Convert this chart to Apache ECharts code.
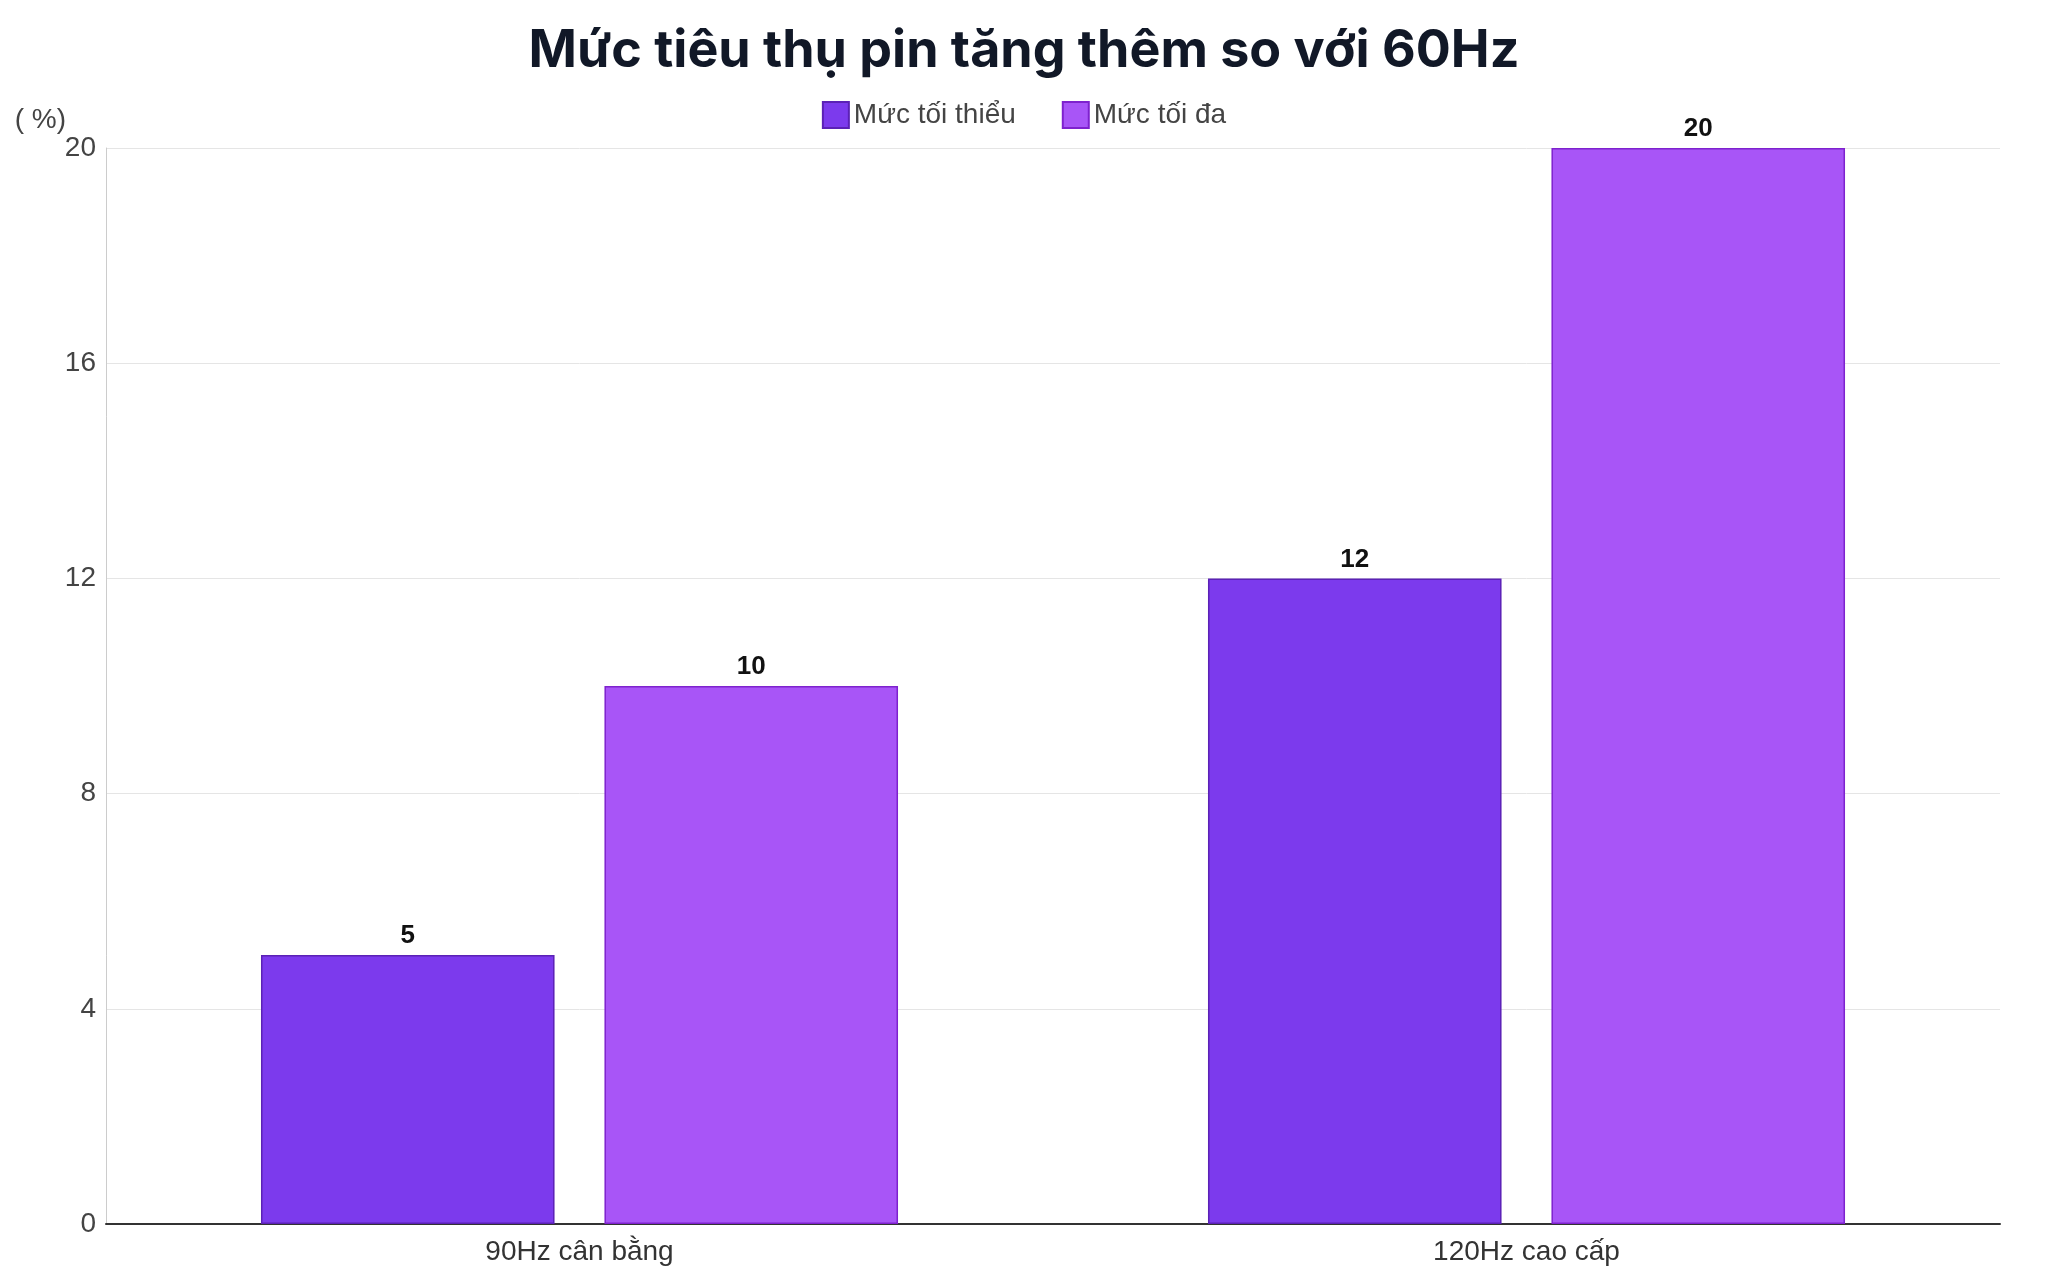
<!DOCTYPE html>
<html><head><meta charset="utf-8">
<script src="https://cdn.jsdelivr.net/npm/echarts@6/dist/echarts.min.js"></script>
<style>html,body{margin:0;padding:0;background:#fff}#c{width:2048px;height:1280px}</style>
</head><body><div id="c"></div>
<script>
const categories = ['90Hz cân bằng', '120Hz cao cấp'];
const seriesNames = ['Mức tối thiểu', 'Mức tối đa'];
const minValues = [5, 12];
const maxValues = [10, 20];
const F = '"Liberation Sans", Arial, sans-serif';
const chart = echarts.init(document.getElementById('c'));
const lbl = {show:true, position:'top', fontSize:26, fontWeight:'bold', color:'#111', fontFamily:F, distance:6};
chart.setOption({
  title:{text:'Mức tiêu thụ pin tăng thêm so với 60Hz', left:'center', top:20,
    textStyle:{fontSize:52, fontWeight:'bold', color:'#111827', fontFamily:'Inter, Roboto, sans-serif'}},
  legend:{top:96, left:'center', itemWidth:26, itemHeight:26, itemGap:46, icon:'rect',
    textStyle:{fontSize:28, color:'#444', fontFamily:F}},
  grid:{left:106, right:48, top:148, bottom:56},
  xAxis:{type:'category', data:categories,
    axisLine:{lineStyle:{color:'#333', width:2}}, axisTick:{show:false},
    axisLabel:{fontSize:28, color:'#333', fontFamily:F, margin:14}},
  yAxis:{type:'value', min:0, max:20, interval:4, name:'( %)',
    nameLocation:'end', nameGap:0, nameTextStyle:{fontSize:28, color:'#444', fontFamily:F, align:'right', verticalAlign:'bottom', padding:[0,40,0,0]},
    axisLine:{show:true, lineStyle:{color:'#ccc'}},
    axisLabel:{fontSize:28, color:'#444', fontFamily:F, margin:10},
    splitLine:{lineStyle:{color:'#e5e5e5'}}},
  series:[
    {name:seriesNames[0], type:'bar', data:minValues, barWidth:'31%', barGap:'17%',
     itemStyle:{color:'#7c3aed', borderColor:'#5b21b6', borderWidth:1.5}, label:lbl},
    {name:seriesNames[1], type:'bar', data:maxValues, barWidth:'31%',
     itemStyle:{color:'#a855f7', borderColor:'#7e22ce', borderWidth:1.5}, label:lbl}
  ]
});
</script></body></html>
